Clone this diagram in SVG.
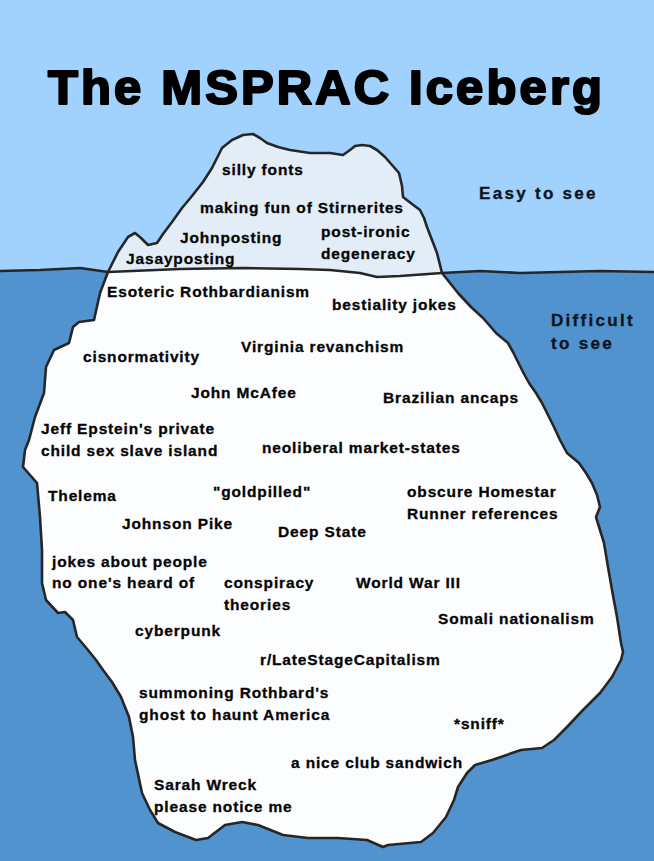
<svg xmlns="http://www.w3.org/2000/svg" width="654" height="861" viewBox="0 0 654 861">
<style>
.t{font-family:"Liberation Sans",Arial,sans-serif;font-weight:bold;font-size:15.5px;letter-spacing:0.85px;fill:#050505;stroke:#050505;stroke-width:0.3px}
.s{font-family:"Liberation Sans",Arial,sans-serif;font-weight:bold;font-size:17px;letter-spacing:2.3px;fill:#0d1520;stroke:#0d1520;stroke-width:0.35px}
.title{font-family:"Liberation Sans",Arial,sans-serif;font-weight:bold;font-size:49px;fill:#000;stroke:#000;stroke-width:2.2px;stroke-linejoin:round}
.edge{fill:none;stroke:#262626;stroke-width:2.6;stroke-linejoin:round;stroke-linecap:round}
</style>
<rect x="0" y="0" width="654" height="861" fill="#a1d2fd"/>
<path d="M0,271 L40,270 L80,268 L108,272 L180,269 L243,268 L300,269 L330,270 L360,273 L377,277 L400,276 L442,273 L480,271 L520,273 L560,272 L600,271 L654,272 L654,861 L0,861 Z" fill="#5193ce"/>
<g id="iceberg">
<path id="tip" d="M108,272 L118,252 L128,237 L135,233 L141,238 L148,245 L157,243 L163,234 L172,222 L182,208 L192,196 L203,182 L212,168 L218,156 L222,148 L232,140 L243,135 L253,134 L260,138 L267,143 L278,147 L290,150 L310,153 L330,153 L343,155 L350,150 L355,146 L362,145 L370,146 L377,150 L385,157 L392,165 L399,173 L402,186 L403,197 L412,204 L420,210 L424,218 L427,227 L432,240 L437,253 L442,273 L430,275 L400,276 L377,277 L360,273 L330,270 L300,269 L243,268 L180,269 Z" fill="#e3edf7"/>
<path id="body" d="M108,272 L180,269 L243,268 L300,269 L330,270 L360,273 L377,277 L400,276 L430,275 L442,273 L450,283 L458,293 L471,307 L483,318 L490,326 L496,333 L508,343 L513,352 L517,360 L523,372 L529,383 L536,393 L542,403 L548,415 L554,427 L560,440 L567,453 L579,463 L586,473 L592,483 L597,495 L600,507 L596,517 L600,530 L604,543 L608,567 L612,590 L617,617 L621,643 L623,652 L621,660 L612,677 L600,693 L583,710 L567,727 L554,740 L542,748 L521,750 L492,760 L475,765 L467,773 L458,787 L454,800 L446,817 L433,833 L421,842 L388,845 L383,847 L367,840 L338,838 L308,838 L283,835 L258,825 L242,822 L225,825 L208,838 L196,840 L175,832 L158,823 L150,810 L142,793 L135,760 L133,737 L129,717 L121,697 L112,682 L103,670 L96,660 L88,650 L77,637 L73,620 L65,612 L58,613 L46,600 L42,583 L42,550 L40,517 L37,483 L23,467 L25,450 L29,440 L35,417 L44,393 L46,367 L54,350 L69,343 L73,327 L79,322 L94,320 L100,293 Z" fill="#fcfdff"/>
</g>
<g id="outlines">
<path class="edge" d="M108,272 L118,252 L128,237 L135,233 L141,238 L148,245 L157,243 L163,234 L172,222 L182,208 L192,196 L203,182 L212,168 L218,156 L222,148 L232,140 L243,135 L253,134 L260,138 L267,143 L278,147 L290,150 L310,153 L330,153 L343,155 L350,150 L355,146 L362,145 L370,146 L377,150 L385,157 L392,165 L399,173 L402,186 L403,197 L412,204 L420,210 L424,218 L427,227 L432,240 L437,253 L442,273 L450,283 L458,293 L471,307 L483,318 L490,326 L496,333 L508,343 L513,352 L517,360 L523,372 L529,383 L536,393 L542,403 L548,415 L554,427 L560,440 L567,453 L579,463 L586,473 L592,483 L597,495 L600,507 L596,517 L600,530 L604,543 L608,567 L612,590 L617,617 L621,643 L623,652 L621,660 L612,677 L600,693 L583,710 L567,727 L554,740 L542,748 L521,750 L492,760 L475,765 L467,773 L458,787 L454,800 L446,817 L433,833 L421,842 L388,845 L383,847 L367,840 L338,838 L308,838 L283,835 L258,825 L242,822 L225,825 L208,838 L196,840 L175,832 L158,823 L150,810 L142,793 L135,760 L133,737 L129,717 L121,697 L112,682 L103,670 L96,660 L88,650 L77,637 L73,620 L65,612 L58,613 L46,600 L42,583 L42,550 L40,517 L37,483 L23,467 L25,450 L29,440 L35,417 L44,393 L46,367 L54,350 L69,343 L73,327 L79,322 L94,320 L100,293 Z"/>
<path class="edge" stroke-width="2" d="M0,271 L40,270 L80,268 L108,272 L180,269 L243,268 L300,269 L330,270 L360,273 L377,277 L400,276 L442,273 L480,271 L520,273 L560,272 L600,271 L654,272"/>
</g>
<text class="title" x="48" y="104" textLength="554" lengthAdjust="spacing">The MSPRAC Iceberg</text>
<text class="s" x="479" y="199">Easy to see</text>
<text class="s" x="551" y="326">Difficult</text>
<text class="s" x="551" y="349">to see</text>
<g id="labels">
<text class="t" x="222" y="175">silly fonts</text>
<text class="t" x="200" y="213">making fun of Stirnerites</text>
<text class="t" x="180" y="243">Johnposting</text>
<text class="t" x="126" y="264">Jasayposting</text>
<text class="t" x="321" y="237">post-ironic</text>
<text class="t" x="321" y="259">degeneracy</text>
<text class="t" x="107" y="297">Esoteric Rothbardianism</text>
<text class="t" x="332" y="310">bestiality jokes</text>
<text class="t" x="241" y="352">Virginia revanchism</text>
<text class="t" x="83" y="362">cisnormativity</text>
<text class="t" x="191" y="398">John McAfee</text>
<text class="t" x="383" y="403">Brazilian ancaps</text>
<text class="t" x="41" y="434">Jeff Epstein's private</text>
<text class="t" x="41" y="456">child sex slave island</text>
<text class="t" x="262" y="453">neoliberal market-states</text>
<text class="t" x="48" y="501">Thelema</text>
<text class="t" x="213" y="497">"goldpilled"</text>
<text class="t" x="407" y="497">obscure Homestar</text>
<text class="t" x="407" y="519">Runner references</text>
<text class="t" x="122" y="529">Johnson Pike</text>
<text class="t" x="278" y="537">Deep State</text>
<text class="t" x="52" y="567">jokes about people</text>
<text class="t" x="52" y="588">no one's heard of</text>
<text class="t" x="224" y="588">conspiracy</text>
<text class="t" x="224" y="610">theories</text>
<text class="t" x="356" y="588">World War III</text>
<text class="t" x="438" y="624">Somali nationalism</text>
<text class="t" x="135" y="636">cyberpunk</text>
<text class="t" x="260" y="665">r/LateStageCapitalism</text>
<text class="t" x="139" y="698">summoning Rothbard's</text>
<text class="t" x="139" y="720">ghost to haunt America</text>
<text class="t" x="454" y="729">*sniff*</text>
<text class="t" x="291" y="768">a nice club sandwich</text>
<text class="t" x="154" y="790">Sarah Wreck</text>
<text class="t" x="154" y="812">please notice me</text>
</g>
</svg>
